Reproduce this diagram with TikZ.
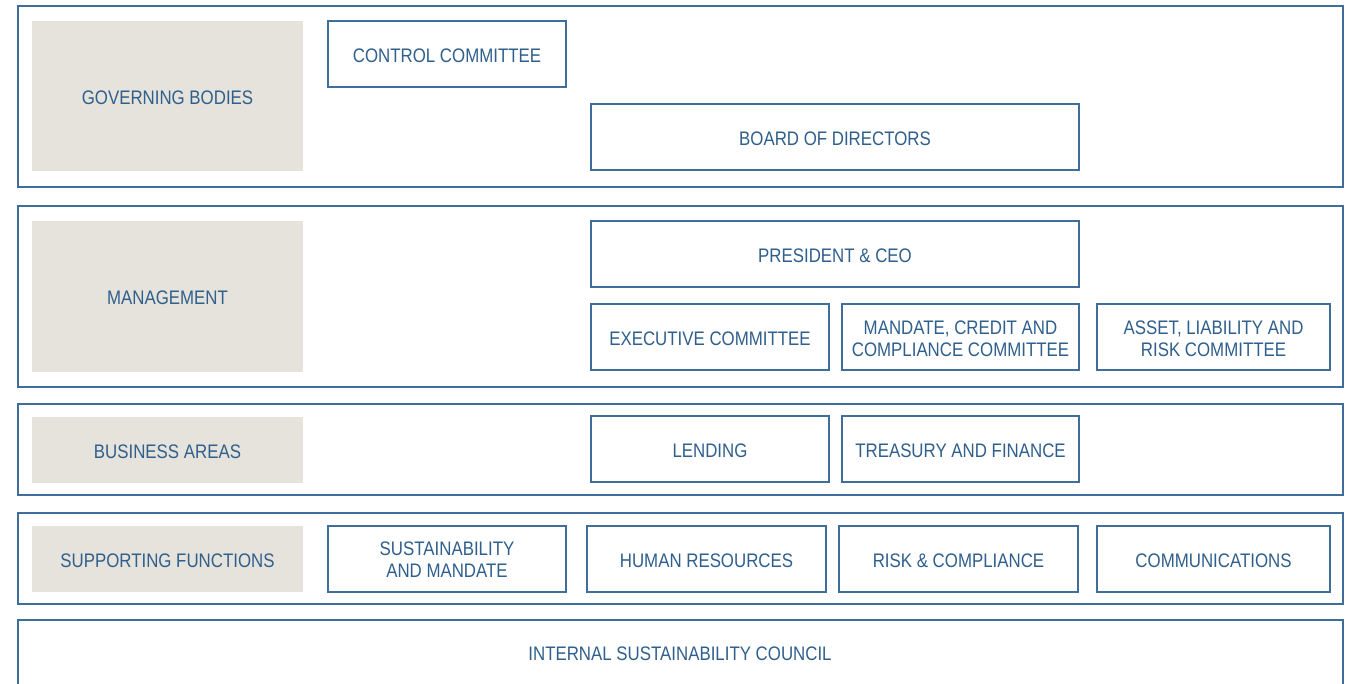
\documentclass[tikz,border=0pt]{standalone}
\usepackage{fontspec}
\setmainfont{Liberation Sans}[FakeStretch=0.86]
\definecolor{bl}{HTML}{3E6E99}
\definecolor{tx}{HTML}{2F5F8C}
\definecolor{gr}{HTML}{E6E3DC}
\begin{document}
\begin{tikzpicture}[x=1pt,y=-1pt,
  frame/.style={draw=bl,line width=1.3pt},
  box/.style={draw=bl,line width=1.3pt,fill=white},
  grey/.style={fill=gr},
  lbl/.style={text=tx,font=\fontsize{19.6}{22}\selectfont,align=center,yshift=-1pt}]
\useasboundingbox (0,0) rectangle (1357,683);
\clip (0,0) rectangle (1357,683);
% frames
\draw[frame] (18,6) rectangle (1343,187);
\draw[frame] (18,206) rectangle (1343,387);
\draw[frame] (18,404) rectangle (1343,495);
\draw[frame] (18,513) rectangle (1343,604);
\draw[frame] (18,620) rectangle (1343,700);
% grey label boxes
\fill[grey] (32,21) rectangle (303,171);
\node[lbl] (gov) at (167.5,97) {GOVERNING BODIES};
\fill[grey] (32,221) rectangle (303,372);
\node[lbl] (mgmt) at (167.5,297) {MANAGEMENT};
\fill[grey] (32,417) rectangle (303,483);
\node[lbl] (bus) at (167.5,451) {BUSINESS AREAS};
\fill[grey] (32,526) rectangle (303,592);
\node[lbl] (sup) at (167.5,560) {SUPPORTING FUNCTIONS};
% boxes
\draw[box] (328,21) rectangle (566,87);
\node[lbl] (cc) at (447,55) {CONTROL COMMITTEE};
\draw[box] (591,104) rectangle (1079,170);
\node[lbl] (bod) at (835,138) {BOARD OF DIRECTORS};
\draw[box] (591,221) rectangle (1079,287);
\node[lbl] (ceo) at (835,255) {PRESIDENT \& CEO};
\draw[box] (591,304) rectangle (829,370);
\node[lbl] (exec) at (710,338) {EXECUTIVE COMMITTEE};
\draw[box] (842,304) rectangle (1079,370);
\node[lbl] (mcc) at (960.5,338) {MANDATE, CREDIT AND\\COMPLIANCE COMMITTEE};
\draw[box] (1097,304) rectangle (1330,370);
\node[lbl] (alr) at (1213.5,338) {ASSET, LIABILITY AND\\RISK COMMITTEE};
\draw[box] (591,416) rectangle (829,482);
\node[lbl] (lend) at (710,450) {LENDING};
\draw[box] (842,416) rectangle (1079,482);
\node[lbl] (tf) at (960.5,450) {TREASURY AND FINANCE};
\draw[box] (328,526) rectangle (566,592);
\node[lbl] (sm) at (447,559) {SUSTAINABILITY\\AND MANDATE};
\draw[box] (587,526) rectangle (826,592);
\node[lbl] (hr) at (706.5,560) {HUMAN RESOURCES};
\draw[box] (839,526) rectangle (1078,592);
\node[lbl] (rc) at (958.5,560) {RISK \& COMPLIANCE};
\draw[box] (1097,526) rectangle (1330,592);
\node[lbl] (com) at (1213.5,560) {COMMUNICATIONS};
\node[lbl] (isc) at (680,653) {INTERNAL SUSTAINABILITY COUNCIL};
\end{tikzpicture}
\end{document}
